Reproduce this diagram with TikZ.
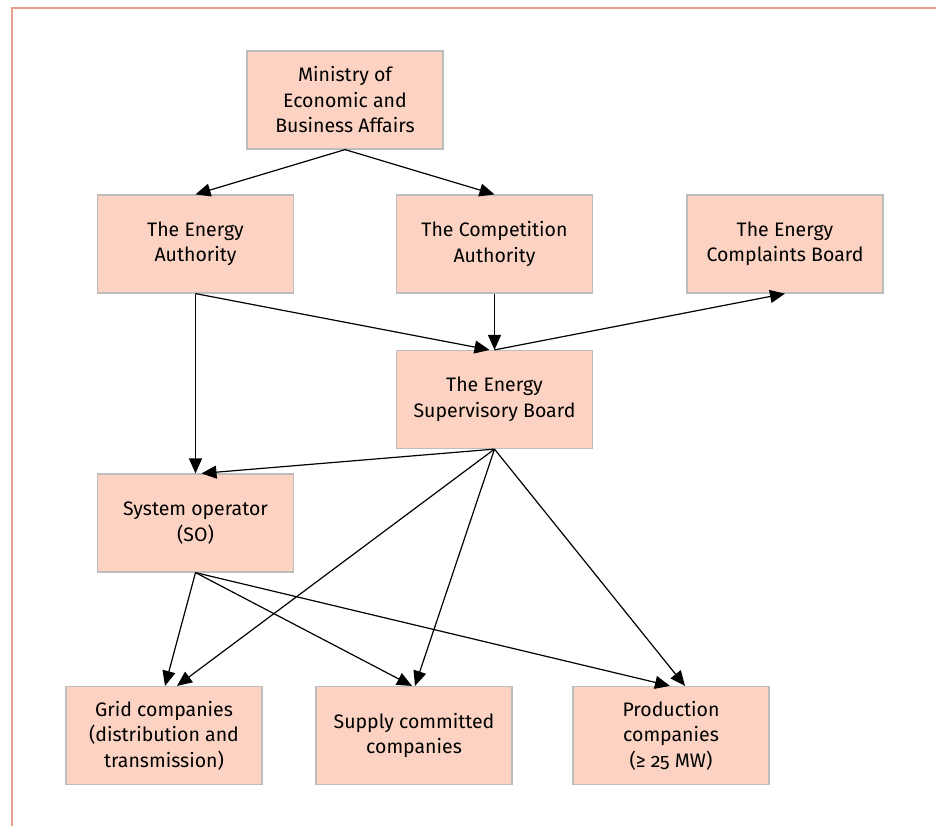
\documentclass[tikz,border=0pt]{standalone}
\usepackage{fontspec}
\setmainfont{Fira Sans}[Numbers=OldStyle]
\usepackage{xcolor}
\usepackage{tikz}
\usetikzlibrary{arrows.meta}

\definecolor{boxfill}{HTML}{FCD3C2}
\definecolor{boxline}{HTML}{BDBDBD}
\definecolor{frameline}{HTML}{E3A08C}

\begin{document}
\begin{tikzpicture}[x=1pt,y=-1pt]
            \tikzstyle{every node}+=[inner sep=0pt]
            \tikzstyle{org}=[draw=boxline, line width=1.2pt, fill=boxfill,
                minimum width=196pt, minimum height=98pt, align=center,
                font=\fontsize{19.5}{25.5}\selectfont]
            \tikzstyle{link}=[black, line width=1.2pt, -{Triangle[length=15pt,width=13pt]}]
            \useasboundingbox (0,0) rectangle (936,825);
            % frame
            \draw [frameline, line width=1.6pt] (12,826) -- (12,8) -- (937,8);
            % organisations
            \node [org] (min) at (345,100) {Ministry of\\Economic and\\Business Affairs};
            \node [org] (ea) at (195.5,244) {The Energy\\Authority};
            \node [org] (ca) at (494.5,244) {The Competition\\Authority};
            \node [org] (ecb) at (785,244) {The Energy\\Complaints Board};
            \node [org] (esb) at (494.5,399.5) {The Energy\\Supervisory Board};
            \node [org] (so) at (195.5,523) {System operator\\(SO)};
            \node [org] (grid) at (164,735.5) {Grid companies\\(distribution and\\transmission)};
            \node [org] (supply) at (414,735.5) {Supply committed\\companies};
            \node [org] (prod) at (671,735.5) {Production\\companies\\(≥ 25 MW)};
            % links
            \draw [link] (min.south) -- (ea.north);
            \draw [link] (min.south) -- (ca.north);
            \draw [link] (ea.south) -- (so.north);
            \draw [link] (ea.south) -- ([xshift=-5pt]esb.north);
            \draw [link] (ca.south) -- (esb.north);
            \draw [link] (esb.north) -- (ecb.south);
            \draw [link] (esb.south) -- ([xshift=6pt]so.north);
            \draw [link] (esb.south) -- ([xshift=13pt]grid.north);
            \draw [link] (esb.south) -- ([xshift=1pt]supply.north);
            \draw [link] (esb.south) -- ([xshift=14pt]prod.north);
            \draw [link] (so.south) -- ([xshift=1pt]grid.north);
            \draw [link] (so.south) -- ([xshift=-2pt]supply.north);
            \draw [link] (so.south) -- ([xshift=-1pt]prod.north);
\end{tikzpicture}
\end{document}
